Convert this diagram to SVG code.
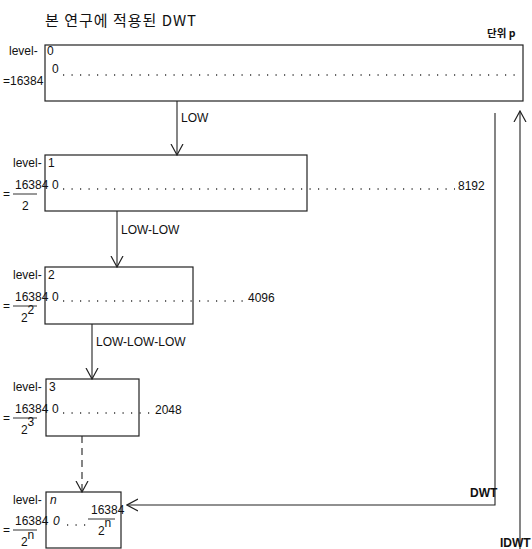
<svg xmlns="http://www.w3.org/2000/svg" width="532" height="549" viewBox="0 0 532 549">
<style>
.t{font-family:"Liberation Sans","Noto Sans CJK KR",sans-serif;font-size:12px;fill:#111}
.k{font-family:"Noto Sans CJK KR","Liberation Sans",sans-serif;fill:#111}
.box{fill:none;stroke:#222;stroke-width:1.2}
.ln{fill:none;stroke:#222;stroke-width:1.1}
.dot{fill:none;stroke:#333;stroke-width:1.3;stroke-dasharray:1.2 7.3}
.fr{stroke:#333;stroke-width:1}
</style>
<defs>
<marker id="v" viewBox="0 0 12 14" refX="11" refY="7" markerWidth="12" markerHeight="14" markerUnits="userSpaceOnUse" orient="auto">
<polyline points="0,1 11,7 0,13" fill="none" stroke="#222" stroke-width="1.2"/>
</marker>
</defs>
<text class="k" x="45" y="26" font-size="15" letter-spacing="1">본 연구에 적용된 DWT</text>
<text class="k" x="487" y="37" font-size="10.5" font-weight="bold">단위 p</text>

<g id="level0">
<rect class="box" x="45" y="45" width="478" height="56"/>
<text class="t" x="9" y="55">level-</text><text class="t" x="47" y="55">0</text>
<text class="t" x="52" y="73">0</text>
<text class="t" x="3" y="85">=16384</text>
<line class="dot" x1="63" y1="75" x2="518" y2="75"/>
</g>

<g id="level1">
<rect class="box" x="45" y="155" width="262" height="56"/>
<text class="t" x="13" y="167">level-</text><text class="t" x="48" y="167">1</text>
<text class="t" x="15" y="189">16384</text><text class="t" x="52" y="189">0</text>
<line class="dot" x1="63" y1="189" x2="455" y2="189"/>
<text class="t" x="458" y="190">8192</text>
<text class="t" x="3" y="198">=</text>
<line class="fr" x1="13" y1="194" x2="37" y2="194"/>
<text class="t" x="22" y="210">2</text>
</g>

<g id="level2">
<rect class="box" x="45" y="267" width="148" height="57"/>
<text class="t" x="13" y="279">level-</text><text class="t" x="48" y="279">2</text>
<text class="t" x="15" y="301">16384</text><text class="t" x="52" y="301">0</text>
<line class="dot" x1="63" y1="301" x2="245" y2="301"/>
<text class="t" x="248" y="302">4096</text>
<text class="t" x="3" y="310">=</text>
<line class="fr" x1="13" y1="306" x2="37" y2="306"/>
<text class="t" x="21" y="322">2</text><text class="t" x="27.5" y="314" font-size="7">2</text>
</g>

<g id="level3">
<rect class="box" x="46" y="379" width="93" height="57"/>
<text class="t" x="13" y="391">level-</text><text class="t" x="49" y="391">3</text>
<text class="t" x="15" y="413">16384</text><text class="t" x="52" y="413">0</text>
<line class="dot" x1="63" y1="413" x2="150" y2="413"/>
<text class="t" x="155" y="414">2048</text>
<text class="t" x="3" y="422">=</text>
<line class="fr" x1="13" y1="418" x2="37" y2="418"/>
<text class="t" x="21" y="434">2</text><text class="t" x="27.5" y="426" font-size="7">3</text>
</g>

<g id="leveln">
<rect class="box" x="46" y="492" width="75" height="56"/>
<text class="t" x="13" y="504">level-</text><text class="t" x="50" y="504" font-style="italic">n</text>
<text class="t" x="15" y="525">16384</text><text class="t" x="53" y="525" font-style="italic">0</text>
<line class="dot" x1="67" y1="525" x2="88" y2="525"/>
<text class="t" x="91" y="514">16384</text>
<line class="fr" x1="88" y1="519" x2="115" y2="519"/>
<text class="t" x="98" y="535">2</text><text class="t" x="104.5" y="527" font-size="7">n</text>
<text class="t" x="3" y="534">=</text>
<line class="fr" x1="13" y1="530" x2="37" y2="530"/>
<text class="t" x="21" y="546">2</text><text class="t" x="27.5" y="539" font-size="7">n</text>
</g>

<g id="connectors">
<line class="ln" x1="177" y1="101" x2="177" y2="155" marker-end="url(#v)"/>
<text class="t" x="181" y="122" font-size="12.5">LOW</text>
<line class="ln" x1="117" y1="211" x2="117" y2="267" marker-end="url(#v)"/>
<text class="t" x="121" y="234" font-size="12.5">LOW-LOW</text>
<line class="ln" x1="92" y1="324" x2="92" y2="379" marker-end="url(#v)"/>
<text class="t" x="96" y="346" font-size="12.5">LOW-LOW-LOW</text>
<line class="ln" x1="82" y1="436" x2="82" y2="492" stroke-dasharray="7 5" marker-end="url(#v)"/>
<polyline class="ln" points="495,113 495,505 127,505" marker-end="url(#v)"/>
<text class="t" x="470" y="497" font-size="10.5" font-weight="bold">DWT</text>
<line class="ln" x1="520" y1="549" x2="520" y2="111" marker-end="url(#v)"/>
<text class="t" x="500" y="547" font-size="10.5" font-weight="bold">IDWT</text>
</g>
</svg>
